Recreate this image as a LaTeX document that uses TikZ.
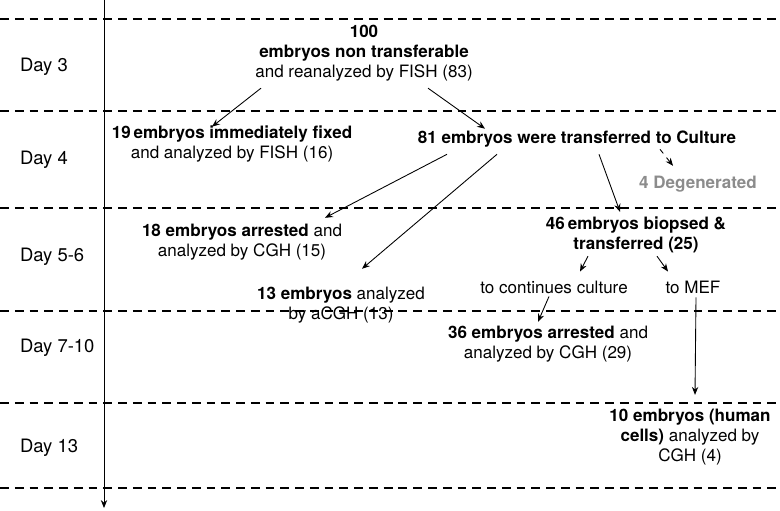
\documentclass[tikz,border=0pt]{standalone}
\usepackage{fontspec}
\setmainfont{TeX Gyre Heros}
\usetikzlibrary{calc,arrows.meta}

\tikzstyle{stage}=[align=center, inner sep=1pt]
\tikzstyle{day}=[anchor=west, inner sep=1pt, font=\fontsize{10.5}{12}\selectfont]
\tikzstyle{arr}=[-{Stealth[length=4.5pt,width=3.6pt]}, line width=0.5pt]
\tikzstyle{sep}=[dashed, dash pattern=on 5pt off 3.4pt, line width=0.7pt]

\begin{document}
\begin{tikzpicture}[x=0.02cm, y=-0.02cm, font=\fontsize{9.7}{11.4}\selectfont]
\useasboundingbox (0,0) rectangle (780,510);
% time axis and day bands
\coordinate (top) at (104,0); \coordinate (bottom) at (104,508);
\draw[arr] (top) -- (bottom);
\foreach \y in {19,111,208,311,403,488}
  \draw[sep] (0,\y) -- (780,\y);
\draw (18,67) node[day](d3){Day 3};
\draw (18,160) node[day](d4){Day 4};
\draw (18,257) node[day](d56){Day 5-6};
\draw (18,348) node[day](d710){Day 7-10};
\draw (18,448) node[day](d13){Day 13};
%
\draw (364,53) node[stage](n100){\textbf{100}\\\textbf{embryos non transferable}\\and reanalyzed by FISH (83)};
%
\draw (232,144) node[stage](n19){\textbf{19\,embryos immediately fixed}\\and analyzed by FISH (16)};
\draw (577,139) node[stage](n81){\textbf{81 embryos were transferred to Culture}};
\draw (698,184) node[stage, text=black!45](ndeg){\textbf{4 Degenerated}};
\draw ($(n100.south)+(-103,5)$) [arr] -- ($(n19.north)+(-20,3)$);
\draw ($(n100.south)+(64,5)$) [arr] -- ($(n81.north)+(-92,0)$);
\draw ($(n81.south)+(83,0)$) [arr, dashed] -- ($(ndeg.north)+(-25,-8)$);
%
\draw (242,242) node[stage](n18){\textbf{18 embryos arrested} and\\analyzed by CGH (15)};
\draw (636,235) node[stage](n46){\textbf{46\,embryos biopsed \&}\\\textbf{transferred (25)}};
\draw (341,305) node[stage](n13){\textbf{13 embryos} analyzed\\by aCGH (13)};
\draw (554,287) node[stage](ncult){to continues culture};
\draw (693,287) node[stage](nmef){to MEF};
\draw ($(n81.south)+(-130,5)$) [arr] -- ($(n18.north)+(83,-4)$);
\draw ($(n81.south)+(-80,5)$) [arr] -- ($(n13.north)+(21,-16)$);
\draw ($(n81.south)+(22,5)$) [arr] -- ($(n46.north)+(-16,-3)$);
\draw ($(n46.south)+(-48,1)$) [arr] -- ($(ncult.north)+(26,-7)$);
\draw ($(n46.south)+(21,1)$) [arr] -- ($(nmef.north)+(-25,-7)$);
%
\draw (548,344) node[stage](n36){\textbf{36 embryos arrested} and\\analyzed by CGH (29)};
\draw (690,437) node[stage](n10){\textbf{10 embryos (human}\\\textbf{cells)} analyzed by\\CGH (4)};
\draw ($(ncult.south)+(-5,1)$) [arr] -- ($(n36.north)+(-10,-2)$);
\draw ($(nmef.south)+(3,2)$) [arr] -- ($(n10.north)+(5,-12)$);
\end{tikzpicture}
\end{document}
